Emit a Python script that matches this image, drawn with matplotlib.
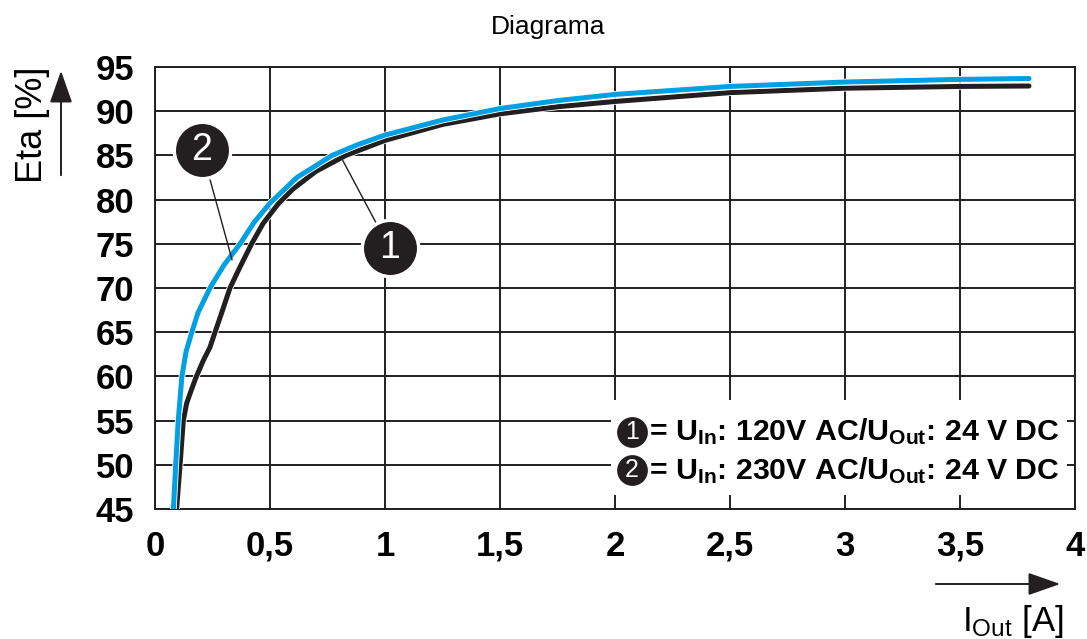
import matplotlib
matplotlib.use('Agg')
import matplotlib.pyplot as plt
import matplotlib.patheffects as pe
from matplotlib.patches import Rectangle

plt.rcParams['font.family'] = ['Liberation Sans', 'DejaVu Sans']
plt.rcParams['mathtext.fontset'] = 'custom'
plt.rcParams['mathtext.rm'] = 'Liberation Sans'
plt.rcParams['mathtext.bf'] = 'Liberation Sans:bold'
plt.rcParams['mathtext.it'] = 'Liberation Sans:italic'

# curve 1: U_In 120V AC
i_120 = [0.094, 0.109, 0.123, 0.138, 0.16, 0.18, 0.21, 0.239, 0.261, 0.29, 0.326,
         0.37, 0.42, 0.47, 0.535, 0.60, 0.70, 0.83, 1.0, 1.25, 1.5, 1.75, 2.0,
         2.5, 3.0, 3.5, 3.8]
eta_120 = [45, 50, 55, 57, 58.6, 60, 61.8, 63.3, 65, 67.2, 70,
           72.4, 75, 77.3, 79.5, 81.2, 83.2, 85, 86.7, 88.5, 89.7, 90.5, 91.1,
           92.1, 92.6, 92.8, 92.85]

# curve 2: U_In 230V AC
i_230 = [0.080, 0.090, 0.101, 0.117, 0.135, 0.160, 0.187, 0.239, 0.30, 0.37,
         0.43, 0.50, 0.617, 0.77, 0.88, 1.0, 1.25, 1.5, 1.75, 2.0, 2.5, 3.0,
         3.5, 3.8]
eta_230 = [45, 50, 55, 60, 62.8, 65, 67.2, 70, 72.6, 75,
           77.4, 79.6, 82.5, 85, 86.2, 87.3, 89, 90.3, 91.2, 91.9, 92.8, 93.3,
           93.6, 93.7]

x_ticks = [0, 0.5, 1, 1.5, 2, 2.5, 3, 3.5, 4]
x_labels = ['0', '0,5', '1', '1,5', '2', '2,5', '3', '3,5', '4']
y_ticks = [45, 50, 55, 60, 65, 70, 75, 80, 85, 90, 95]

legend_texts = [r'= $\mathbf{U_{In}}$: 120V AC/$\mathbf{U_{Out}}$: 24 V DC',
                r'= $\mathbf{U_{In}}$: 230V AC/$\mathbf{U_{Out}}$: 24 V DC']

dark = '#231f20'
blue = '#00a0e3'

fig = plt.figure(figsize=(10.87, 6.39), dpi=100)
ax = fig.add_axes([155/1087, 130/639, 920/1087, 442/639])
ax.set_xlim(0, 4)
ax.set_ylim(45, 95)
ax.set_xticks(x_ticks)
ax.set_xticklabels(x_labels)
ax.set_yticks(y_ticks)
ax.tick_params(length=0, labelsize=25, pad=15)
for lab in ax.get_xticklabels() + ax.get_yticklabels():
    lab.set_fontweight('bold')
ax.grid(True, color=dark, lw=1.4)
for s in ax.spines.values():
    s.set_color(dark)
    s.set_linewidth(1.4)

ax.plot(i_120, eta_120, color=dark, lw=3.6, solid_capstyle='round',
        solid_joinstyle='round', zorder=3,
        path_effects=[pe.withStroke(linewidth=4.8, foreground='white')])
ax.plot(i_230, eta_230, color=blue, lw=3.6, solid_capstyle='round',
        solid_joinstyle='round', zorder=4,
        path_effects=[pe.withStroke(linewidth=4.8, foreground='white')])

# leader lines and numbered circles
ax.plot([0.204, 0.335], [85.6, 73.2], color=dark, lw=1.0, zorder=5)
ax.plot([1.02, 0.817], [74.5, 84.4], color=dark, lw=1.0, zorder=5)
for cx, cy, n in [(0.204, 85.6, '2'), (1.02, 74.5, '1')]:
    ax.scatter([cx], [cy], s=1650, color=dark, edgecolor='white', linewidth=2.5, zorder=6)
    ax.text(cx, cy, n, color='white', fontsize=27, ha='center', va='center', zorder=7)

# legend box
ax.add_patch(Rectangle((1.983, 46.6), 1.982, 10.7, facecolor='white', edgecolor='none', zorder=2.5))
for k, (yy, txt) in enumerate(zip([0.174, 0.088], legend_texts)):
    ax.scatter([0.5185], [yy], s=560, color=dark, edgecolor='white', linewidth=1.5,
               transform=ax.transAxes, zorder=6)
    ax.text(0.5185, yy, str(k + 1), color='white', fontsize=18, ha='center', va='center',
            transform=ax.transAxes, zorder=7)
    ax.text(0.537, yy, txt, fontsize=21.8, fontweight='bold', ha='left', va='center',
            transform=ax.transAxes, zorder=7)

# axis labels with arrows
fig.text(548/1087, 1 - 27/639, 'Diagrama', fontsize=19, ha='center', va='center')
fig.text(32/1087, 1 - 125/639, 'Eta [%]', fontsize=26, rotation=90, ha='center', va='center')
fig.text(962/1087, 8/639, r'I$_{\rm Out}$ [A]', fontsize=25, ha='left', va='baseline')
ax.annotate('', xy=(61, 571), xytext=(61, 461), xycoords='figure pixels',
            textcoords='figure pixels',
            arrowprops=dict(arrowstyle='-|>,head_length=1.0,head_width=0.35',
                            mutation_scale=20, color=dark, lw=1.4))
ax.annotate('', xy=(1063, 55), xytext=(933, 55), xycoords='figure pixels',
            textcoords='figure pixels',
            arrowprops=dict(arrowstyle='-|>,head_length=1.0,head_width=0.35',
                            mutation_scale=20, color=dark, lw=1.4))

fig.savefig('out.png', dpi=100)
